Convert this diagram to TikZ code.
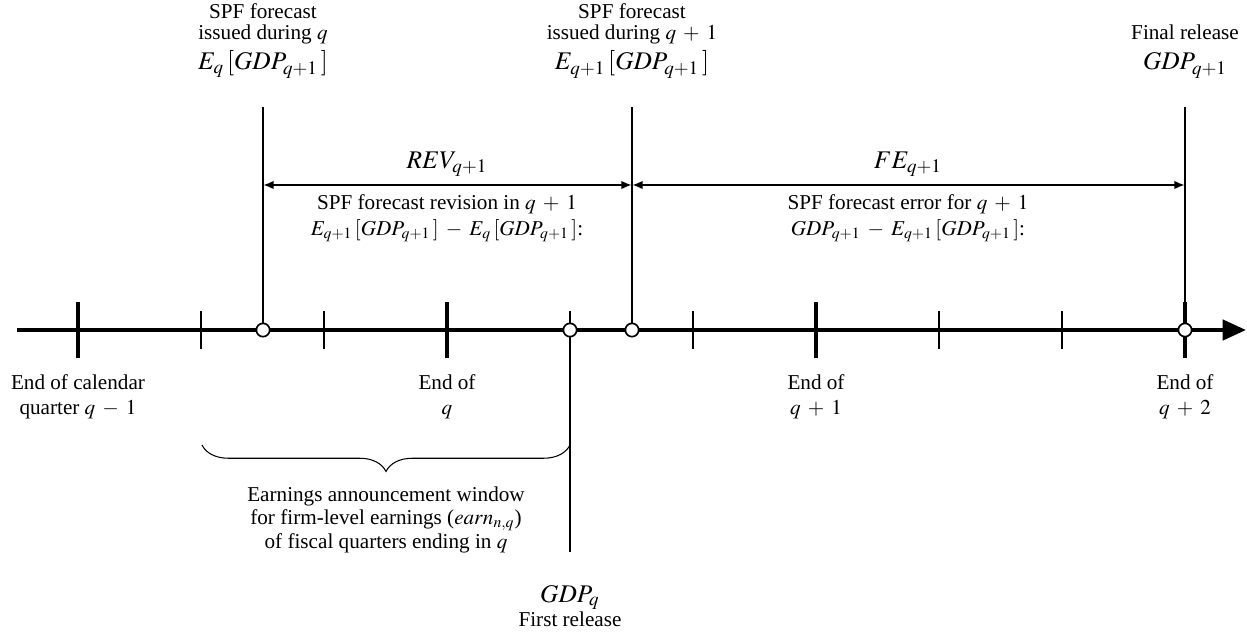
\documentclass[tikz,border=0pt]{standalone}
\usepackage{mathptmx}
\usepackage{fontspec}
\setmainfont{Liberation Serif}
\usetikzlibrary{arrows.meta,decorations.pathreplacing}
\medmuskip=6mu plus 2mu minus 2mu
\begin{document}
\begin{tikzpicture}[x=0.4725pt,y=-0.4725pt,
  txt/.style={inner sep=0pt,anchor=base,font=\fontsize{10}{12}\selectfont},
  mth/.style={inner sep=0pt,anchor=base,font=\large},
  axisline/.style={line width=1.9pt,-{Triangle[length=11pt,width=9.5pt]}},
  majortick/.style={line width=1.9pt},
  minortick/.style={line width=0.7pt},
  vline/.style={line width=1pt},
  span/.style={line width=1pt,{Latex[length=5pt,width=4pt]}-{Latex[length=5pt,width=4pt]}},
  evt/.style={circle,draw,line width=0.8pt,fill=white,inner sep=0pt,minimum size=6.3pt},
  bracestyle/.style={line width=0.5pt,decorate,decoration={brace,mirror,amplitude=12.5pt}}]
\useasboundingbox (0,0) rectangle (1247,638);

% axis
\coordinate (axL) at (17,330);
\coordinate (axR) at (1246,330);
\draw[axisline] (axL) -- (axR);

% major ticks
\foreach \x [count=\i] in {78,447,816,1185}{
  \coordinate (M\i t) at (\x,302);
  \coordinate (M\i b) at (\x,358);
  \draw[majortick] (M\i t) -- (M\i b);
}
% minor ticks
\foreach \x [count=\i] in {201,324,570,693,939,1062}{
  \coordinate (m\i t) at (\x,311);
  \coordinate (m\i b) at (\x,349);
  \draw[minortick] (m\i t) -- (m\i b);
}

% vertical event lines
\coordinate (v1) at (263,107);
\coordinate (v2) at (632,107);
\coordinate (v3) at (1185,107);
\coordinate (v4) at (570,552);
\coordinate (e1pos) at (263,330);
\coordinate (e2pos) at (632,330);
\coordinate (e3pos) at (1185,330);
\coordinate (e4pos) at (570,330);
\draw[vline] (v1) -- (e1pos);
\draw[vline] (v2) -- (e2pos);
\draw[vline] (v3) -- (e3pos);
\draw[vline] (v4) -- (e4pos);

% event circles
\node[evt] (e1) at (e1pos) {};
\node[evt] (e2) at (e2pos) {};
\node[evt] (e3) at (e3pos) {};
\node[evt] (e4) at (e4pos) {};

% spans
\coordinate (a1) at (263,185);
\coordinate (a2) at (632,185);
\coordinate (a3) at (1185,185);
\draw[span] (a1) -- (a2);
\draw[span] (a2) -- (a3);

\node[mth] (rev) at (447,168) {$REV_{q+1}$};
\node[mth] (fe) at (908,168) {$FE_{q+1}$};
\node[txt] (revtxt) at (447,209) {SPF forecast revision in $q+1$};
\node[txt] (revfml) at (447,235) {$E_{q+1}\,[GDP_{q+1}\,]-E_q\,[GDP_{q+1}\,]$:};
\node[txt] (fetxt) at (908,209) {SPF forecast error for $q+1$};
\node[txt] (fefml) at (908,235) {$GDP_{q+1}-E_{q+1}\,[GDP_{q+1}\,]$:};

% top labels
\node[txt] (t1a) at (263,19) {SPF forecast};
\node[txt] (t1b) at (263,40) {issued during $q$};
\node[mth] (f1) at (263,70) {$E_q\,[GDP_{q+1}\,]$};
\node[txt] (t2a) at (632,19) {SPF forecast};
\node[txt] (t2b) at (632,40) {issued during $q+1$};
\node[mth] (f2) at (632,70) {$E_{q+1}\,[GDP_{q+1}\,]$};
\node[txt] (t3) at (1185,40) {Final release};
\node[mth] (f3) at (1185,70) {$GDP_{q+1}$};

% bottom labels
\node[txt] (b1a) at (78,389) {End of calendar};
\node[txt] (b1b) at (78,414) {quarter $q-1$};
\node[txt] (b2a) at (447,389) {End of};
\node[txt] (b2b) at (447,414) {$q$};
\node[txt] (b3a) at (816,389) {End of};
\node[txt] (b3b) at (816,414) {$q+1$};
\node[txt] (b4a) at (1185,389) {End of};
\node[txt] (b4b) at (1185,414) {$q+2$};

% brace
\coordinate (br1) at (202,445);
\coordinate (br2) at (570,445);
\draw[bracestyle] (br1) -- (br2);
\node[txt] (earn1) at (386,501) {Earnings announcement window};
\node[txt] (earn2) at (386,524) {for firm-level earnings ($earn_{n,q}$)};
\node[txt] (earn3) at (386,548) {of fiscal quarters ending in $q$};

% first release
\node[mth] (gq) at (570,602) {$GDP_q$};
\node[txt] (fr) at (570,626) {First release};
\end{tikzpicture}
\end{document}
